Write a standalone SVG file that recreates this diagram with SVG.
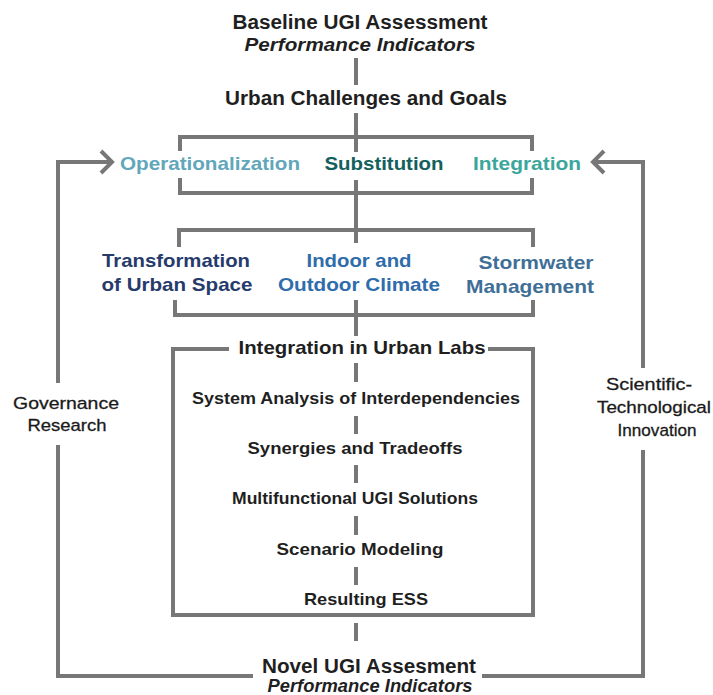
<svg xmlns="http://www.w3.org/2000/svg" width="713" height="695" viewBox="0 0 713 695">
  <style>
    text { font-family: "Liberation Sans", Arial, sans-serif; font-weight: bold; text-anchor: middle; fill: #1f1f1f; }
    .h { font-size: 20px; }
    .it { font-style: italic; font-size: 19px; }
    .k { font-size: 19px; }
    .b { font-size: 17px; }
    .s { font-size: 17px; font-weight: normal; fill: #1a1a1a; stroke: #1a1a1a; stroke-width: 0.3; }
    .ln { fill: none; stroke: #777777; stroke-width: 4; stroke-linejoin: miter; stroke-linecap: butt; }
    .op { fill: #62a6bb; }
    .su { fill: #13605d; }
    .in { fill: #3ca69d; }
    .tr { fill: #263b6c; }
    .cl { fill: #2f6cab; }
    .sw { fill: #3f6f96; }
  </style>

  <g id="connectors">
    <path class="ln" d="M356,58 V85 M356,113 V137"/>
    <path class="ln" d="M180,151 V137 H532 V151 M356,137 V152"/>
    <path class="ln" d="M180,178 V193 H532 V178 M356,180 V243"/>
    <path class="ln" d="M179,247 V230 H533 V247"/>
    <path class="ln" d="M175,300 V315 H533 V300 M356,300 V336"/>
    <path class="ln" d="M229,349 H173 V615 H533 V349 H488"/>
    <path class="ln" d="M356,363 V382 M356,416 V434 M356,465 V483 M356,516 V535 M356,567 V585 M356,623 V641"/>
    <path class="ln" d="M253,676 H58 V445 M58,383 V162 H111"/>
    <path class="ln" d="M101,151 L112,162 L101,173"/>
    <path class="ln" d="M482,676 H643 V450 M643,368 V162 H594"/>
    <path class="ln" d="M604,151 L593,162 L604,173"/>
  </g>

  <g id="baseline">
    <text class="h" x="360" y="29" textLength="255" lengthAdjust="spacingAndGlyphs">Baseline UGI Assessment</text>
    <text class="it" x="360" y="51" textLength="231" lengthAdjust="spacingAndGlyphs">Performance Indicators</text>
  </g>

  <g id="challenges">
    <text class="h" x="366" y="105" textLength="282" lengthAdjust="spacingAndGlyphs">Urban Challenges and Goals</text>
  </g>

  <g id="strategies">
    <text class="k op" x="210" y="170" textLength="180" lengthAdjust="spacingAndGlyphs">Operationalization</text>
    <text class="k su" x="384" y="170" textLength="119" lengthAdjust="spacingAndGlyphs">Substitution</text>
    <text class="k in" x="527" y="170" textLength="108" lengthAdjust="spacingAndGlyphs">Integration</text>
  </g>

  <g id="fields">
    <text class="k tr" x="176" y="267" textLength="148" lengthAdjust="spacingAndGlyphs">Transformation</text>
    <text class="k tr" x="177" y="291" textLength="151" lengthAdjust="spacingAndGlyphs">of Urban Space</text>
    <text class="k cl" x="359" y="267" textLength="105" lengthAdjust="spacingAndGlyphs">Indoor and</text>
    <text class="k cl" x="359" y="291" textLength="162" lengthAdjust="spacingAndGlyphs">Outdoor Climate</text>
    <text class="k sw" x="536" y="269" textLength="115" lengthAdjust="spacingAndGlyphs">Stormwater</text>
    <text class="k sw" x="530" y="293" textLength="128" lengthAdjust="spacingAndGlyphs">Management</text>
  </g>

  <g id="urban-labs">
    <text class="k" x="362" y="354" textLength="247" lengthAdjust="spacingAndGlyphs">Integration in Urban Labs</text>
    <text class="b" x="356" y="404" textLength="328" lengthAdjust="spacingAndGlyphs">System Analysis of Interdependencies</text>
    <text class="b" x="355" y="454" textLength="215" lengthAdjust="spacingAndGlyphs">Synergies and Tradeoffs</text>
    <text class="b" x="355" y="504" textLength="246" lengthAdjust="spacingAndGlyphs">Multifunctional UGI Solutions</text>
    <text class="b" x="360" y="555" textLength="167" lengthAdjust="spacingAndGlyphs">Scenario Modeling</text>
    <text class="b" x="366" y="605" textLength="124" lengthAdjust="spacingAndGlyphs">Resulting ESS</text>
  </g>

  <g id="novel">
    <text class="h" x="369" y="673" textLength="214" lengthAdjust="spacingAndGlyphs">Novel UGI Assesment</text>
    <text class="it" x="370" y="692" textLength="205" lengthAdjust="spacingAndGlyphs">Performance Indicators</text>
  </g>

  <g id="governance">
    <text class="s" x="66" y="409" textLength="106" lengthAdjust="spacingAndGlyphs">Governance</text>
    <text class="s" x="67" y="431" textLength="79" lengthAdjust="spacingAndGlyphs">Research</text>
  </g>

  <g id="innovation">
    <text class="s" x="649" y="390" textLength="86" lengthAdjust="spacingAndGlyphs">Scientific-</text>
    <text class="s" x="654" y="413" textLength="114" lengthAdjust="spacingAndGlyphs">Technological</text>
    <text class="s" x="657" y="436" textLength="79" lengthAdjust="spacingAndGlyphs">Innovation</text>
  </g>
</svg>
